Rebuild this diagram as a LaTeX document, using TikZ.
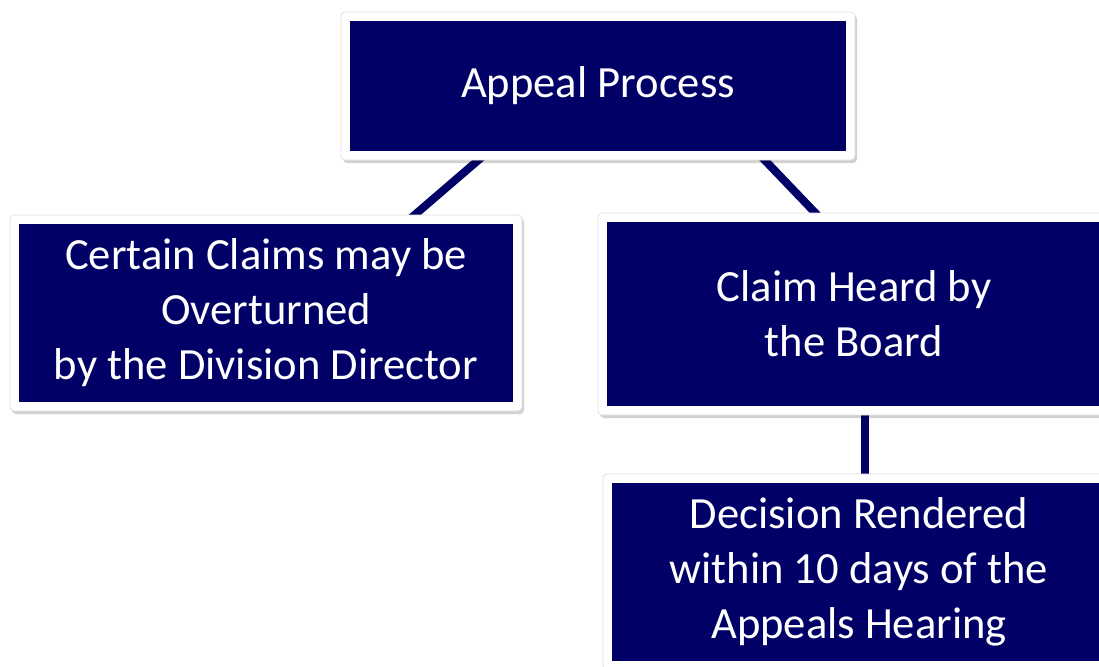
\documentclass[tikz,border=0pt]{standalone}
\usepackage{fontspec}
\setmainfont{Carlito}
\usetikzlibrary{shadows,backgrounds}
\definecolor{navybox}{RGB}{0,0,102}

\begin{document}
\begin{tikzpicture}[x=0.5pt,y=-0.5pt,
  card/.style={rectangle, minimum width=256pt, fill=white, draw=gray!25,
    line width=0.4pt, rounded corners=2pt, inner sep=0pt,
    drop shadow={shadow xshift=1pt, shadow yshift=-1.5pt, fill=black, opacity=0.18},
    path picture={\fill[navybox, sharp corners]
      ([shift={(4.5pt,4.5pt)}]path picture bounding box.south west) rectangle
      ([shift={(-4.5pt,-4.5pt)}]path picture bounding box.north east);},
    text=white, align=center, font=\fontsize{22.3}{27.5}\selectfont},
  link/.style={navybox, line width=4pt, shorten <=-3pt, shorten >=-3pt}]
  \useasboundingbox (0,0) rectangle (1099,666);
  \clip (0,0) rectangle (1099,666);
  % boxes
  \node[card, minimum width=257pt, minimum height=74pt] (appeal) at (598,86) {Appeal Process};
  \node[card, minimum height=98pt] (overturn) at (266,313)
       {Certain Claims may be\\Overturned\\by the Division Director};
  \node[card, minimum height=101pt] (board) at (854,314) {Claim Heard by\\the Board};
  \node[card, minimum height=98pt] (decision) at (859,572)
       {Decision Rendered\\within 10 days of the\\Appeals Hearing};
  % links behind the boxes
  \begin{scope}[on background layer]
    \draw[link] ([xshift=-60pt]appeal.south) -- ([xshift=74.5pt]overturn.north);
    \draw[link] ([xshift=83.5pt]appeal.south) -- ([xshift=-19.5pt]board.north);
    \draw[link] ([xshift=5.5pt]board.south) -- ([xshift=5.5pt]board.south |- decision.north);
  \end{scope}
\end{tikzpicture}
\end{document}
